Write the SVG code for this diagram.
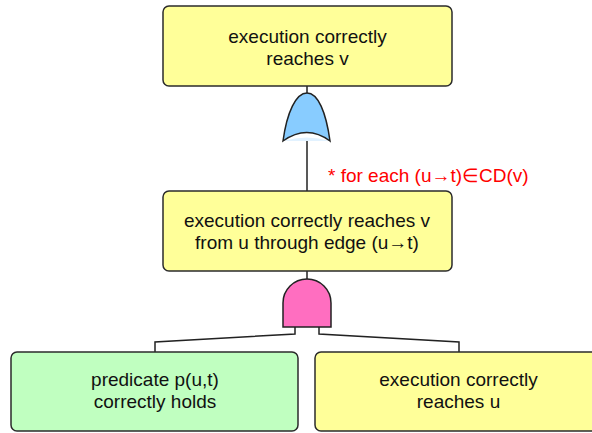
<svg xmlns="http://www.w3.org/2000/svg" width="592" height="433" viewBox="0 0 592 433">
<style>
.box{stroke:#2b2b2b;stroke-width:1.5}
.y{fill:#FFFF99}
.g{fill:#C0FFC0}
.t{font-family:"Liberation Sans",Arial,sans-serif;font-size:19px;fill:#111;text-anchor:middle}
.c{fill:none;stroke:#222;stroke-width:1.5}
.red{font-family:"Liberation Sans",Arial,sans-serif;font-size:19px;fill:#FF0000}
</style>
<rect width="592" height="433" fill="#fff"/>
<g id="connectors">
<line class="c" x1="307" y1="86" x2="307" y2="94"/>
<line class="c" x1="307" y1="140" x2="307" y2="191"/>
<line class="c" x1="307" y1="271" x2="307" y2="280"/>
<polyline class="c" points="295,327 295,334 155,342 155,352"/>
<polyline class="c" points="319,327 319,334 459,342 459,352"/>
</g>
<g id="top">
<rect class="box y" x="163" y="6" width="289" height="80" rx="6"/>
<text class="t" x="307.5" y="43">execution correctly</text>
<text class="t" x="307.5" y="65">reaches v</text>
</g>
<g id="orgate">
<path d="M283,141 Q307,134 330,141 Z" fill="#E2F2FF"/>
<path d="M283,141 C287,112 296,93 307,93 C318,93 326,112 330,141 Q307,124 283,141 Z" fill="#88CCFF" stroke="#222" stroke-width="1.5"/>
</g>
<text class="red" x="328" y="182">* for each (u→t)∈CD(v)</text>
<g id="middle">
<rect class="box y" x="163" y="191" width="289" height="80" rx="6"/>
<text class="t" x="307" y="227">execution correctly reaches v</text>
<text class="t" x="307" y="249">from u through edge (u→t)</text>
</g>
<g id="andgate">
<path d="M283,327 L283,303 A24,24 0 0 1 331,303 L331,327 Z" fill="#FF6EC0" stroke="#222" stroke-width="1.5"/>
</g>
<g id="left">
<rect class="box g" x="11" y="352" width="287" height="79" rx="6"/>
<text class="t" x="155" y="386">predicate p(u,t)</text>
<text class="t" x="155" y="408">correctly holds</text>
</g>
<g id="right">
<rect class="box y" x="315" y="352" width="287" height="79" rx="6"/>
<text class="t" x="458.5" y="386">execution correctly</text>
<text class="t" x="458.5" y="408">reaches u</text>
</g>
</svg>
